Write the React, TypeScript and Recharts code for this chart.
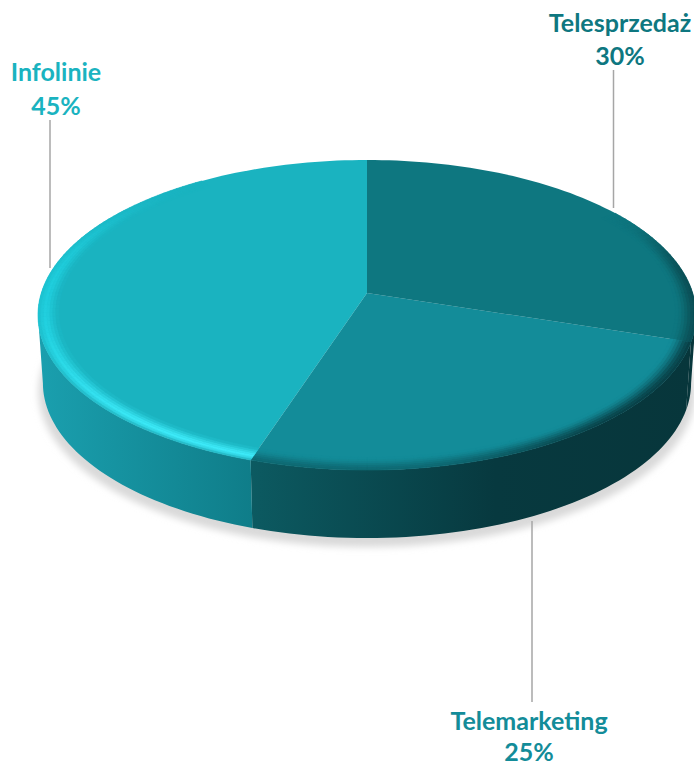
import React from "react";
import { PieChart, Pie, Cell } from "recharts";

const categories = ["Telesprzedaż", "Telemarketing", "Infolinie"];
const shares = [30, 25, 45];
const topColors = ["#0e7780", "#138c99", "#1ab3c0"];

const chartData = categories.map((name, i) => ({ name, value: shares[i] }));

const labelLayout = [
  { x: 620, y1: 22, y2: 55, lx: 613.5, ly1: 70, ly2: 208 },
  { x: 529, y1: 720, y2: 751, lx: 532, ly1: 521, ly2: 702 },
  { x: 56, y1: 71, y2: 105, lx: 50, ly1: 120, ly2: 268 },
];

const PERSPECTIVE = 0.142;
const SQUASH = 0.4664;
const WALL = 68;
const WALL_SCALE = 0.985;
// where the rim turns away from the viewer: the wall is only visible between these
const TANGENT = (Math.acos(-PERSPECTIVE) * 180) / Math.PI;

function project(cx: number, cy: number, R: number, thetaDeg: number, r = 1) {
  const t = (thetaDeg * Math.PI) / 180;
  const u = r * Math.sin(t);
  const v = r * Math.cos(t);
  const d = 1 + PERSPECTIVE * v;
  return { x: cx + (R * u) / d, y: cy - (R * SQUASH * v) / d };
}

const hex = (c: string) => [1, 3, 5].map((i) => parseInt(c.slice(i, i + 2), 16));
function mixHex(a: string, b: string, k: number) {
  const A = hex(a);
  const B = hex(b);
  return (
    "#" +
    A.map((v, i) =>
      Math.round(v + (B[i] - v) * k)
        .toString(16)
        .padStart(2, "0")
    ).join("")
  );
}
const smooth = (x: number) => {
  const c = Math.max(0, Math.min(1, x));
  return c * c * (3 - 2 * c);
};

// colour of the bevelled rim: s is 0 at the outer edge and 1 where it meets the flat top
function rimColor(index: number, theta: number, s: number) {
  const top = topColors[index];
  if (index === 2) {
    const strength = smooth((325 - theta) / 55);
    const frontBoost = smooth((270 - theta) / 60);
    const glow = mixHex("#20d0df", "#3fedfb", frontBoost);
    const profile = s < 0.4 ? 0.45 + (s / 0.4) * 0.55 : 1 - (s - 0.4) / 0.6;
    const base = mixHex(top, glow, strength * profile);
    const edge = s < 0.25 ? (1 - s / 0.25) * 0.35 * frontBoost : 0;
    return mixHex(base, "#12808c", edge);
  }
  const dark = index === 1 ? "#083c42" : "#0a4a50";
  const back = index === 0 ? smooth((theta - 55) / 30) : 1;
  const fade = index === 1 ? 0.45 + 0.5 * smooth((175 - theta) / 40) : 0.9;
  return mixHex(top, dark, back * fade * (1 - smooth(s)));
}

const wallStops = [
  [["0%", "#0a4046"], ["100%", "#07363b"]],
  [["0%", "#0c5a61"], ["55%", "#07393f"], ["100%", "#07363b"]],
  [["0%", "#1a9fae"], ["100%", "#0f7d89"]],
];
const wallRange = [
  [600, 694],
  [252, 694],
  [40, 252],
];

function Slice(props: any) {
  const { cx, cy, outerRadius: R, startAngle, endAngle, index } = props;
  const a0 = 90 - Math.max(startAngle, endAngle);
  const a1 = 90 - Math.min(startAngle, endAngle);
  const STEP = 1.5;
  const n = Math.ceil((a1 - a0) / STEP);
  const thetas = Array.from({ length: n + 1 }, (_, i) => a0 + ((a1 - a0) * i) / n);
  const rim = thetas.map((t) => project(cx, cy, R, t));
  const top = rim.map((p) => `${p.x.toFixed(2)},${p.y.toFixed(2)}`).join(" ");
  const gradId = `wall-${index}`;

  const w0 = Math.max(a0, TANGENT);
  const w1 = Math.min(a1, 360 - TANGENT);
  const wm = Math.ceil((w1 - w0) / STEP);
  const wallRim = Array.from({ length: wm + 1 }, (_, i) =>
    project(cx, cy, R, w0 + ((w1 - w0) * i) / wm)
  );
  const wallPoints = [
    ...wallRim.map((p) => `${p.x.toFixed(2)},${p.y.toFixed(2)}`),
    ...wallRim
      .slice()
      .reverse()
      .map((p) => `${(cx + (p.x - cx) * WALL_SCALE).toFixed(2)},${(p.y + WALL).toFixed(2)}`),
  ].join(" ");

  const quads: React.ReactNode[] = [];
  const BANDS = 7;
  const WIDTH = 0.062;
  for (let b = 0; b < BANDS; b++) {
    const r0 = 1 - (WIDTH * b) / BANDS;
    const r1 = 1 - (WIDTH * (b + 1)) / BANDS;
    for (let i = 0; i < n; i++) {
      const tm = (thetas[i] + thetas[i + 1]) / 2;
      if (index === 0 && tm < 55) continue;
      if (index === 2 && tm > 325) continue;
      const p1 = project(cx, cy, R, thetas[i], r0);
      const p2 = project(cx, cy, R, thetas[i + 1], r0);
      const p3 = project(cx, cy, R, thetas[i + 1], r1);
      const p4 = project(cx, cy, R, thetas[i], r1);
      const c = rimColor(index, tm, (b + 0.5) / BANDS);
      quads.push(
        <polygon
          key={`${b}-${i}`}
          points={`${p1.x},${p1.y} ${p2.x},${p2.y} ${p3.x},${p3.y} ${p4.x},${p4.y}`}
          fill={c}
          stroke={c}
          strokeWidth={0.6}
        />
      );
    }
  }

  let shadow = null;
  if (index === 0) {
    const lowerRing = Array.from({ length: 120 }, (_, i) => project(cx, cy, R, i * 3)).map(
      (p) => `${cx + (p.x - cx) * 0.998},${p.y + WALL + 9}`
    );
    shadow = (
      <g>
        <defs>
          <filter id="disc-shadow" x="-10%" y="-10%" width="120%" height="120%">
            <feGaussianBlur stdDeviation="3.5" />
          </filter>
        </defs>
        <polygon points={lowerRing.join(" ")} fill="#d9d9d9" filter="url(#disc-shadow)" />
      </g>
    );
  }

  return (
    <g>
      {shadow}
      <defs>
        <linearGradient
          id={gradId}
          gradientUnits="userSpaceOnUse"
          x1={wallRange[index][0]}
          x2={wallRange[index][1]}
          y1={0}
          y2={0}
        >
          {wallStops[index].map(([o, c]) => (
            <stop key={o} offset={o} stopColor={c} />
          ))}
        </linearGradient>
      </defs>
      <polygon points={wallPoints} fill={`url(#${gradId})`} />
      <polygon points={`${cx},${cy} ${top}`} fill={topColors[index]} />
      {quads}
    </g>
  );
}

function renderLabel(props: any) {
  const { index } = props;
  const l = labelLayout[index];
  const common = {
    textAnchor: "middle" as const,
    dominantBaseline: "central" as const,
    fontFamily: "Lato, 'Open Sans', sans-serif",
    fontWeight: 700,
    fontSize: 25,
    fill: topColors[index],
  };
  return (
    <g key={categories[index]}>
      <line x1={l.lx} x2={l.lx} y1={l.ly1} y2={l.ly2} stroke="#a6a6a6" strokeWidth={1.5} />
      <text x={l.x} y={l.y1} {...common}>
        {categories[index]}
      </text>
      <text x={l.x} y={l.y2} {...common}>
        {`${shares[index]}%`}
      </text>
    </g>
  );
}

export default function App() {
  return (
    <div style={{ position: "absolute", left: 0, top: 0, width: 694, height: 761, overflow: "hidden", background: "#fff" }}>
      <PieChart width={694} height={761} margin={{ top: 0, right: 0, bottom: 0, left: 0 }}>
        <Pie
          data={chartData}
          dataKey="value"
          nameKey="name"
          cx={367}
          cy={293}
          innerRadius={0}
          outerRadius={325.7}
          startAngle={90}
          endAngle={-270}
          stroke="none"
          isAnimationActive={false}
          shape={Slice}
          label={renderLabel}
          labelLine={false}
        >
          {chartData.map((d, i) => (
            <Cell key={d.name} fill={topColors[i]} />
          ))}
        </Pie>
      </PieChart>
    </div>
  );
}
